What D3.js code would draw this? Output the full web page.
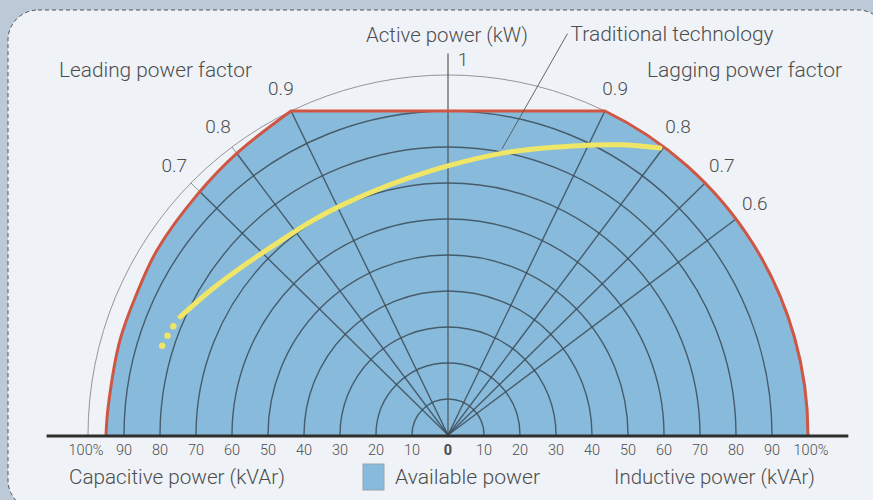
<!DOCTYPE html>
<html>
<head>
<meta charset="utf-8">
<script src="https://cdn.jsdelivr.net/npm/d3@7"></script>
<style>
  html, body { margin: 0; padding: 0; background: #bcc9d6; }
  svg { display: block; }
  text { font-family: Roboto, "Noto Sans", sans-serif; fill: #4d4d4d; }
</style>
</head>
<body>
<svg id="chart" width="873" height="500"></svg>
<script>
// ---------- data ----------
const tickValues = [-100, -90, -80, -70, -60, -50, -40, -30, -20, -10, 0, 10, 20, 30, 40, 50, 60, 70, 80, 90, 100];
const tickLabels = ["100%", "90", "80", "70", "60", "50", "40", "30", "20", "10", "0", "10", "20", "30", "40", "50", "60", "70", "80", "90", "100%"];
const gridLevels = [10, 20, 30, 40, 50, 60, 70, 80, 90];
const pfLeading = [0.9, 0.8, 0.7];
const pfLagging = [0.9, 0.8, 0.7, 0.6];
const activeLimit = 90;          // kW cap (%)
const apparentLimit = 100;       // inductive side circle (%)
// capacitive-side limit curve (from base up to the 0.9 corner)
const capKvar = [-95.0, -94.4, -91.1, -86.4, -80.8, -69.7, -58.6, -43.6];
const capKw   = [0, 7.8, 26.4, 39.4, 51.4, 66.7, 78.3, 90];
// "Traditional technology" curve
const tradKvar = [-74.4, -65.3, -55.8, -46.7, -37.5, -30.0, -20.0, -11.4, -0.3, 16.4, 34.7, 47.8, 58.9];
const tradKw   = [32.8, 40.7, 47.7, 53.8, 59.6, 63.6, 68.0, 71.2, 74.7, 78.5, 80.3, 80.6, 79.7];
const tradDotKvar = [-79.4, -77.9, -76.3];
const tradDotKw   = [24.8, 27.6, 30.2];

// ---------- setup ----------
const svg = d3.select("#chart");
const cx = 448, cy = 435, R = 360;
const x = d3.scaleLinear().domain([-100, 100]).range([cx - R, cx + R]);
const y = d3.scaleLinear().domain([0, 100]).range([cy, cy - R]);
const rs = d3.scaleLinear().domain([0, 100]).range([0, R]);

// panel background
svg.append("rect").attr("x", 8).attr("y", 10).attr("width", 880).attr("height", 500)
  .attr("rx", 30).attr("fill", "#eff3f7").attr("stroke", "#555").attr("stroke-width", 1)
  .attr("stroke-dasharray", "4,3");

// thin outer reference circle
const outer = d3.path();
outer.arc(cx, cy, rs(100), Math.PI, 2 * Math.PI, false);
svg.append("path").attr("d", outer.toString()).attr("fill", "none").attr("stroke", "#8a8a8a").attr("stroke-width", 0.9);

const pfLines = pfLeading.map(p => ({pf: p, side: -1})).concat(pfLagging.map(p => ({pf: p, side: 1})));
function pfEnd(d, pct) {
  const th = Math.acos(d.pf);
  return [x(d.side * Math.sin(th) * pct), y(Math.cos(th) * pct)];
}
// thin radial lines to the 100% circle
svg.append("g").selectAll("line").data(pfLines).join("line")
  .attr("x1", x(0)).attr("y1", y(0))
  .attr("x2", d => pfEnd(d, 100)[0]).attr("y2", d => pfEnd(d, 100)[1])
  .attr("stroke", "#8a8a8a").attr("stroke-width", 0.9);

// boundary path
function boundary(close) {
  const p = d3.path();
  const pts = capKvar.map((v, i) => [x(v), y(capKw[i])]);
  d3.line().curve(d3.curveCatmullRom.alpha(0.5)).context(p)(pts);
  const kv = Math.sqrt(apparentLimit * apparentLimit - activeLimit * activeLimit);
  p.lineTo(x(kv), y(activeLimit));
  const a0 = Math.atan2(y(activeLimit) - cy, x(kv) - cx);
  p.arc(cx, cy, rs(apparentLimit), a0, 0, false);
  if (close) p.closePath();
  return p.toString();
}

svg.append("defs").append("clipPath").attr("id", "avail")
  .append("path").attr("d", boundary(true));

svg.append("path").attr("d", boundary(true)).attr("fill", "#88badb");

const grid = svg.append("g").attr("clip-path", "url(#avail)");
grid.selectAll("path.arc").data(gridLevels).join("path").attr("class", "arc")
  .attr("d", v => { const p = d3.path(); p.arc(cx, cy, rs(v), Math.PI, 2 * Math.PI, false); return p.toString(); })
  .attr("fill", "none").attr("stroke", "#3b4b57").attr("stroke-opacity", 0.85).attr("stroke-width", 1.4);
grid.selectAll("line").data(pfLines).join("line")
  .attr("x1", x(0)).attr("y1", y(0))
  .attr("x2", d => pfEnd(d, 100)[0]).attr("y2", d => pfEnd(d, 100)[1])
  .attr("stroke", "#3b4b57").attr("stroke-opacity", 0.85).attr("stroke-width", 1.4);

// vertical axis
svg.append("line").attr("x1", x(0)).attr("x2", x(0)).attr("y1", y(0)).attr("y2", y(106))
  .attr("stroke", "#4a4a4a").attr("stroke-width", 1.1);

// red outline
svg.append("path").attr("d", boundary(false)).attr("fill", "none")
  .attr("stroke", "#cf5643").attr("stroke-width", 3).attr("stroke-linejoin", "round");

// traditional technology curve
svg.append("path")
  .attr("d", d3.line().curve(d3.curveCatmullRom.alpha(0.5))(tradKvar.map((v, i) => [x(v), y(tradKw[i])])))
  .attr("fill", "none").attr("stroke", "#efe566").attr("stroke-width", 5).attr("stroke-linecap", "round");
svg.append("g").selectAll("circle").data(tradDotKvar).join("circle")
  .attr("cx", v => x(v)).attr("cy", (v, i) => y(tradDotKw[i])).attr("r", 3.2).attr("fill", "#efe566");

// annotation
const annFrom = [15, 79.5], annTo = [33.2, 111.5];
svg.append("line").attr("x1", x(annFrom[0])).attr("y1", y(annFrom[1]))
  .attr("x2", x(annTo[0])).attr("y2", y(annTo[1])).attr("stroke", "#555").attr("stroke-width", 0.9);

function label(txt, px, py, anchor, size, len) {
  return svg.append("text").attr("x", px).attr("y", py).attr("text-anchor", anchor)
    .attr("dominant-baseline", "middle").attr("font-size", size).attr("font-weight", 300)
    .attr("textLength", len).attr("lengthAdjust", "spacingAndGlyphs").text(txt);
}
label("Traditional technology", x(annTo[0]) + 3, y(annTo[1]) + 2, "start", 20, 203);
label("Active power (kW)", 366, 37, "start", 20, 162);
label("Leading power factor", 59, 72, "start", 20, 193);
label("Lagging power factor", 647, 72, "start", 20, 195);
svg.append("text").attr("x", x(0) + 15).attr("y", 61).attr("text-anchor", "middle")
  .attr("dominant-baseline", "middle").attr("font-size", 19).attr("font-weight", 300).text("1");

// pf labels
svg.append("g").selectAll("text").data(pfLines).join("text")
  .attr("x", d => pfEnd(d, 106.5)[0]).attr("y", d => pfEnd(d, 106.5)[1])
  .attr("text-anchor", "middle").attr("dominant-baseline", "middle")
  .attr("font-size", 19).attr("font-weight", 300).text(d => d.pf.toFixed(1));

// baseline
svg.append("line").attr("x1", x(-111.5)).attr("x2", x(111.2)).attr("y1", y(0) + 1).attr("y2", y(0) + 1)
  .attr("stroke", "#2e2e2e").attr("stroke-width", 3);

// tick labels
svg.append("g").selectAll("text").data(tickValues).join("text")
  .attr("x", v => x(v) + (v === 100 ? 3 : v === -100 ? -2 : 0)).attr("y", 451)
  .attr("text-anchor", "middle").attr("dominant-baseline", "middle")
  .attr("font-size", 14.5).attr("font-weight", (v) => v === 0 ? 700 : 300)
  .text((v, i) => tickLabels[i]);

// bottom titles and legend
label("Capacitive power (kVAr)", 69, 478, "start", 21, 216);
svg.append("rect").attr("x", 363).attr("y", 464).attr("width", 21).attr("height", 26)
  .attr("fill", "#88badb").attr("stroke", "#9aa4ab").attr("stroke-width", 1);
label("Available power", 395, 478, "start", 21, 145);
label("Inductive power (kVAr)", 614, 478, "start", 21, 201);
</script>
</body>
</html>
